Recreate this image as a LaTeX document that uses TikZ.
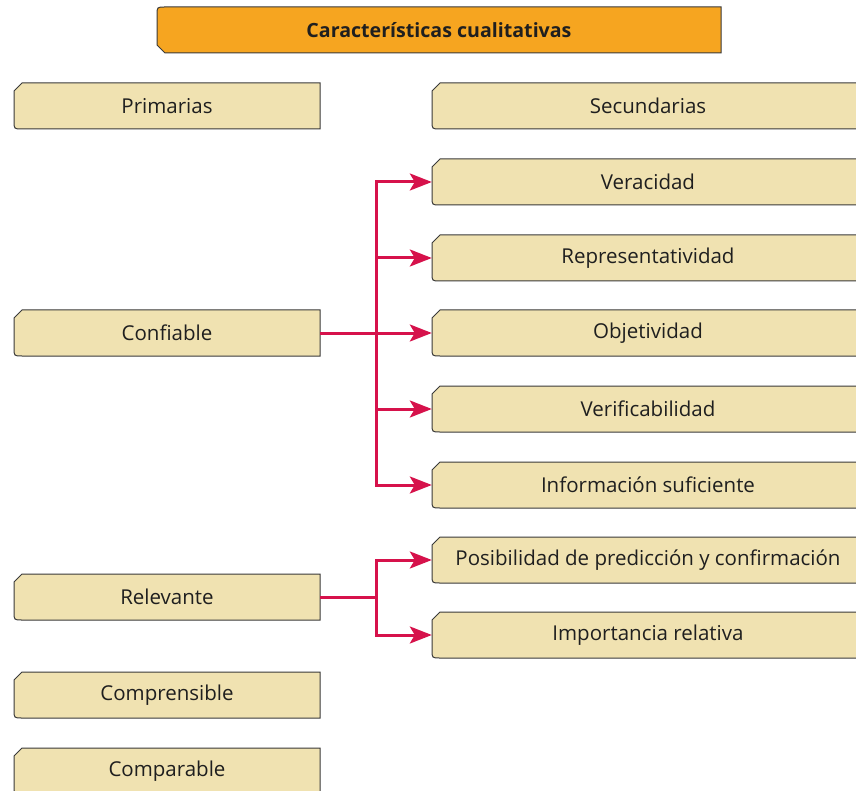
\documentclass[tikz,border=0pt]{standalone}
\usepackage{fontspec}
\setmainfont{Open Sans}
\usetikzlibrary{arrows.meta}
\definecolor{beige}{HTML}{F0E2B1}
\definecolor{orng}{HTML}{F6A520}
\definecolor{redc}{HTML}{D6124B}
\definecolor{edge}{HTML}{3A3A3A}
\tikzset{
  boxline/.style={draw=edge, line width=1pt, fill=beige},
  txt/.style={inner sep=0pt, font=\fontsize{20.5}{23}\selectfont, text=black!88},
  conn/.style={draw=redc, line width=3pt, -{Stealth[length=22pt,width=17pt,inset=5pt]}},
  connplain/.style={draw=redc, line width=3pt}
}
% left-chamfer (top) / rounded (bottom) box: name, x1, y1, x2, y2, text
\newcommand\lbox[6]{%
  \filldraw[boxline] (#2,#3+8) -- (#2+8,#3) -- (#4,#3) -- (#4,#5) -- (#2+8,#5) .. controls (#2,#5) .. (#2,#5-8) -- cycle;
  \node[txt, minimum width={(#4-#2)*1pt}, minimum height={(#5-#3)*1pt}] (#1) at ({(#2+#4)/2},{(#3+#5)/2}) {#6};
}
% right box running off the page: name, y1, y2, text
\newcommand\rbox[4]{%
  \filldraw[boxline] (432,#2+8) -- (440,#2) -- (900,#2) -- (900,#3) -- (440,#3) .. controls (432,#3) .. (432,#3-8) -- cycle;
  \node[txt, minimum width=432pt, minimum height={(#3-#2)*1pt}] (#1) at (648,{(#2+#3)/2}) {#4};
}
\begin{document}
\begin{tikzpicture}[x=1pt,y=-1pt]
\useasboundingbox (0,0) rectangle (856,791);
\clip (0,0) rectangle (856,791);
% title box: rounded top-left, chamfered bottom-left
\filldraw[draw=edge, line width=1pt, fill=orng] (157+8,7) -- (721,7) -- (721,53) -- (157+8,53) -- (157,53-8) -- (157,7+8) .. controls (157,7) .. (157+8,7) -- cycle;
\node[txt, font=\fontsize{19.6}{22}\selectfont\bfseries, minimum width=564pt, minimum height=46pt] (title) at (439,30) {Características cualitativas};
% left column
\lbox{prim}{14}{83}{320}{129}{Primarias}
\lbox{conf}{14}{310}{320}{356}{Confiable}
\lbox{relev}{14}{574}{320}{620}{Relevante}
\lbox{compr}{14}{672}{320}{718}{Comprensible}
\lbox{compa}{14}{748}{320}{794}{Comparable}
% right column
\rbox{sec}{83}{129}{Secundarias}
\rbox{ver}{159}{205}{Veracidad}
\rbox{rep}{235}{281}{Representatividad}
\rbox{obj}{310}{356}{Objetividad}
\rbox{verif}{386}{432}{Verificabilidad}
\rbox{info}{462}{508}{Información suficiente}
\rbox{pos}{537}{583}{Posibilidad de predicción y confirmación}
\rbox{imp}{612}{658}{Importancia relativa}
% connectors
\coordinate (tc) at (376,333);
\coordinate (tr) at (376,597);
\draw[connplain] (conf.east) -- (tc);
\draw[conn] (tc) |- (ver.west);
\draw[conn] (tc) |- (rep.west);
\draw[conn] (tc) -- (obj.west);
\draw[conn] (tc) |- (verif.west);
\draw[conn] (tc) |- (info.west);
\draw[connplain] (relev.east) -- (tr);
\draw[conn] (tr) |- (pos.west);
\draw[conn] (tr) |- (imp.west);
\end{tikzpicture}
\end{document}
